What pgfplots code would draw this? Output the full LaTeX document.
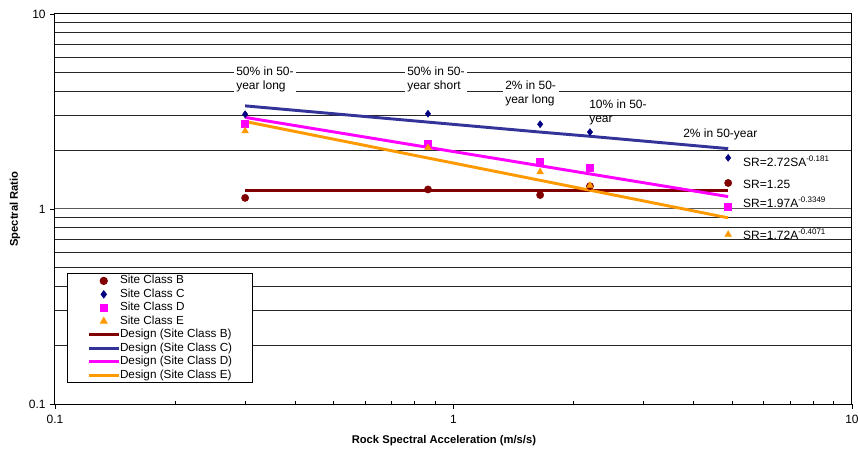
\documentclass[border=0pt]{standalone}
\usepackage{fontspec}
\setmainfont{Liberation Sans}
\usepackage{pgfplots}
\pgfplotsset{compat=1.18}
\definecolor{cB}{HTML}{800000}
\definecolor{cCm}{HTML}{000080}
\definecolor{cCl}{HTML}{333399}
\definecolor{cD}{HTML}{FF00FF}
\definecolor{cE}{HTML}{FF9900}
\pgfplotsset{wideleg/.style={legend image code/.code={\draw[mark repeat=2,mark phase=2,##1] plot coordinates {(0cm,0cm) (0.39cm,0cm) (0.78cm,0cm)};}}}
\begin{document}
\begin{tikzpicture}
\path (-41.25pt,-34.5pt) rectangle (602.25pt,303pt);
\begin{scope}[overlay]
\begin{axis}[
  at={(0pt,0pt)}, anchor=south west,
  scale only axis, width=597.75pt, height=292.5pt,
  xmode=log, ymode=log,
  xmin=0.1, xmax=10, ymin=0.1, ymax=10,
  xtick={0.1,1,10}, xticklabels={0.1,1,10},
  ytick={0.1,1,10}, yticklabels={0.1,1,10},
  minor xtick={0.2,0.3,0.4,0.5,0.6,0.7,0.8,0.9,2,3,4,5,6,7,8,9},
  minor ytick={0.2,0.3,0.4,0.5,0.6,0.7,0.8,0.9,2,3,4,5,6,7,8,9},
  ymajorgrids, yminorgrids,
  major grid style={draw=black!65, line width=0.75pt},
  minor grid style={draw=black!85, line width=0.7pt},
  xtick pos=bottom, ytick pos=left,
  tick align=outside,
  major tick length=3.5pt, minor tick length=2.2pt,
  minor x tick style={yshift=2.2pt},
  minor y tick style={draw=none},
  axis line style={line width=0.75pt},
  tick style={black, line width=0.6pt},
  ticklabel style={font=\fontsize{9}{10}\selectfont},
  xticklabel style={yshift=-1.5pt},
  xlabel={Rock Spectral Acceleration (m/s/s)},
  ylabel={Spectral Ratio},
  label style={font=\fontsize{8.4}{10}\selectfont\bfseries},
  xlabel style={at={(axis description cs:0.488,-0.0949)}, anchor=center},
  ylabel style={at={(axis description cs:-0.0502,0.5)}, anchor=center},
  legend style={at={(axis description cs:0.01506,0.3359)}, anchor=north west,
    font=\fontsize{8.8}{10}\selectfont, draw=black, line width=0.75pt,
    inner xsep=15pt, inner ysep=0.5pt, row sep=0pt,
    nodes={text height=6.6pt, text depth=2pt, inner ysep=0.75pt, inner xsep=0pt}},
  legend cell align=left,
]
\addplot[only marks, mark=*, mark size=2.7pt, color=cB, wideleg] coordinates {(0.3,1.14) (0.863,1.26) (1.65,1.18) (2.2,1.31) (4.89,1.36)};
\addlegendentry{Site Class B}
\addplot[only marks, mark=diamond*, mark size=2.6pt, color=cCm, wideleg] coordinates {(0.3,3.06) (0.863,3.08) (1.65,2.72) (2.2,2.48) (4.89,1.83)};
\addlegendentry{Site Class C}
\addplot[only marks, mark=square*, mark size=2.6pt, color=cD, wideleg] coordinates {(0.3,2.74) (0.863,2.15) (1.65,1.74) (2.2,1.63) (4.89,1.03)};
\addlegendentry{Site Class D}
\addplot[only marks, mark=triangle*, mark size=2.8pt, color=cE, wideleg] coordinates {(0.3,2.51) (0.863,2.06) (1.65,1.55) (2.2,1.32) (4.89,0.74)};
\addlegendentry{Site Class E}
\addplot[no marks, color=cB, line width=2.2pt, wideleg] coordinates {(0.3,1.25) (0.863,1.25) (1.65,1.25) (2.2,1.25) (4.89,1.25)};
\addlegendentry{Design (Site Class B)}
\addplot[no marks, color=cCl, line width=2.2pt, wideleg] coordinates {(0.3,3.38) (0.863,2.79) (1.65,2.48) (2.2,2.36) (4.89,2.04)};
\addlegendentry{Design (Site Class C)}
\addplot[no marks, color=cD, line width=2.2pt, wideleg] coordinates {(0.3,2.95) (0.863,2.07) (1.65,1.666) (2.2,1.513) (4.89,1.158)};
\addlegendentry{Design (Site Class D)}
\addplot[no marks, color=cE, line width=2.2pt, wideleg] coordinates {(0.3,2.81) (0.863,1.826) (1.65,1.403) (2.2,1.248) (4.89,0.901)};
\addlegendentry{Design (Site Class E)}
\begin{scope}[every node/.style={anchor=west, font=\fontsize{9}{10.5}\selectfont, align=left}]
\node[fill=white, inner sep=2pt, xshift=-2pt] at (axis description cs:0.2271,0.832) {50\% in 50-\\year long};
\node[fill=white, inner sep=2pt, xshift=-2pt] at (axis description cs:0.4417,0.832) {50\% in 50-\\year short};
\node[fill=white, inner sep=2pt, xshift=-2pt] at (axis description cs:0.5646,0.7974) {2\% in 50-\\year long};
\node[inner sep=0pt] at (axis description cs:0.670,0.7487) {10\% in 50-\\year};
\node[inner sep=0pt] at (axis description cs:0.788,0.6923) {2\% in 50-year};
\node[inner sep=0pt] at (axis description cs:0.8632,0.6231) {SR=2.72SA\textsuperscript{-0.181}};
\node[inner sep=0pt] at (axis description cs:0.8632,0.5633) {SR=1.25};
\node[inner sep=0pt] at (axis description cs:0.8632,0.5162) {SR=1.97A\textsuperscript{-0.3349}};
\node[inner sep=0pt] at (axis description cs:0.8632,0.4359) {SR=1.72A\textsuperscript{-0.4071}};
\end{scope}
\end{axis}
\end{scope}
\end{tikzpicture}
\end{document}
